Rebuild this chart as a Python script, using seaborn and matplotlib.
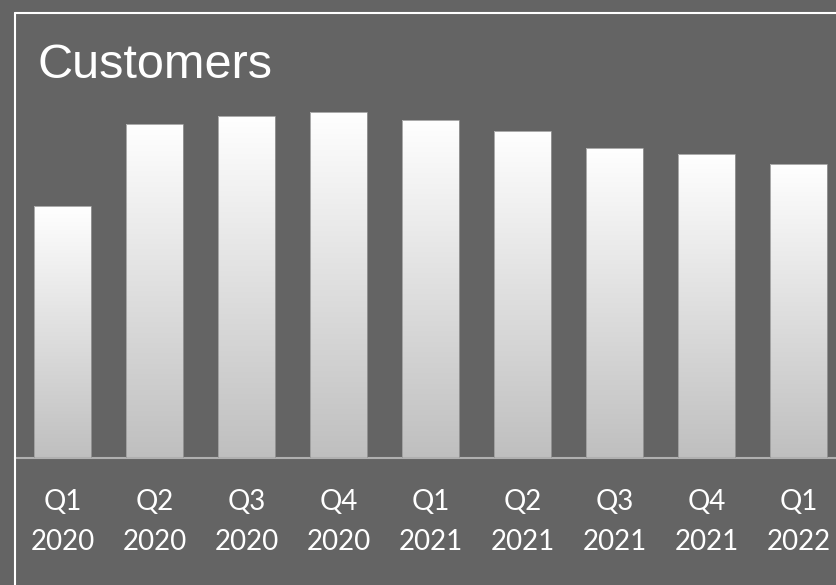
import numpy as np
import pandas as pd
import matplotlib
matplotlib.use('Agg')
import matplotlib.pyplot as plt
from matplotlib.lines import Line2D
import seaborn as sns

# Data (bar heights, arbitrary units)
quarters = ['Q1', 'Q2', 'Q3', 'Q4', 'Q1', 'Q2', 'Q3', 'Q4', 'Q1']
years = ['2020', '2020', '2020', '2020', '2021', '2021', '2021', '2021', '2022']
customers = [252, 334, 342, 346, 338, 327, 310, 304, 294]

labels = [q + '\n' + y for q, y in zip(quarters, years)]
df = pd.DataFrame({'period': labels, 'customers': customers})

bg = '#646464'
sns.set_style('dark')
plt.rcParams['font.family'] = ['Lato', 'DejaVu Sans']

fig = plt.figure(figsize=(8.37, 5.85), dpi=100, facecolor=bg)
ax = fig.add_axes([15 / 837, 127 / 585, 822 / 837, 446 / 585])
ax.set_facecolor(bg)

sns.barplot(data=df, x='period', y='customers', ax=ax, width=0.61,
            color='white', edgecolor='#9a9a9a', linewidth=0.6)

# vertical gradient inside each bar
grad = np.linspace(1.0, 0.0, 256).reshape(-1, 1)
cmap = matplotlib.colors.LinearSegmentedColormap.from_list('g', ['#bfbfbf', '#ffffff'])
for p in ax.patches:
    x0, y0 = p.get_x(), p.get_y()
    w, h = p.get_width(), p.get_height()
    im = ax.imshow(grad, cmap=cmap, vmin=0, vmax=1, aspect='auto',
                   extent=[x0, x0 + w, y0, y0 + h], origin='upper', zorder=2)
    im.set_clip_path(p)
    p.set_facecolor('none')
    p.set_zorder(3)

ax.set_xlim(-0.516, 8.418)
ax.set_ylim(0, 446)
ax.set_xlabel('')
ax.set_ylabel('')
ax.set_yticks([])
ax.grid(False)
for s in ['left', 'right', 'top']:
    ax.spines[s].set_visible(False)
ax.spines['bottom'].set_visible(True)
ax.spines['bottom'].set_color('#b0b0b0')
ax.spines['bottom'].set_linewidth(1.5)
ax.tick_params(axis='x', length=0, pad=22, labelcolor='white', labelsize=20)
for t in ax.get_xticklabels():
    t.set_color('white')
    t.set_fontweight('normal')
    t.set_linespacing(1.7)

# white frame (left and top)
xl = 15.5 / 837
yt = 1 - 12.5 / 585
fig.add_artist(Line2D([xl, xl], [0, yt], color='white', lw=1.5, transform=fig.transFigure))
fig.add_artist(Line2D([xl, 1], [yt, yt], color='white', lw=1.5, transform=fig.transFigure))

fig.text(38 / 837, 1 - 78 / 585, 'Customers', color='white', fontsize=35,
         family='Liberation Sans', va='baseline', ha='left')

plt.savefig('out.png', dpi=100, facecolor=bg)
